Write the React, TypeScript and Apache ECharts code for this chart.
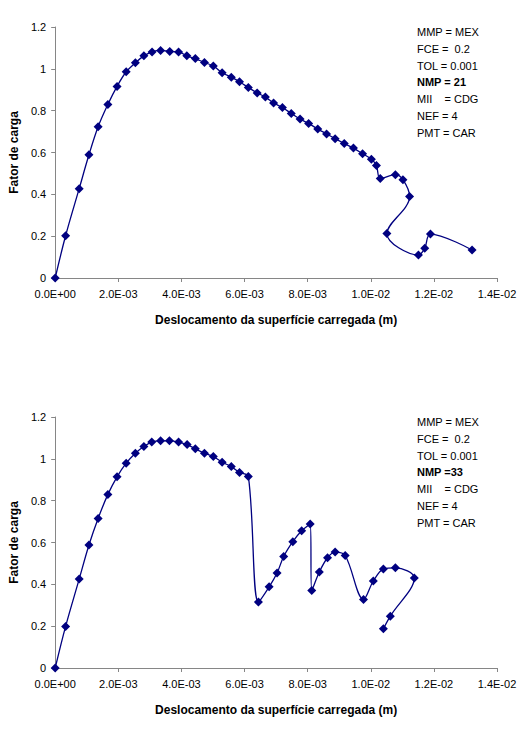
import React, { useEffect, useRef } from "react";
import * as echarts from "echarts";

// Displacement values in units of 1E-3 m
const dispTop = [
  0, 0.33, 0.76, 1.07, 1.36, 1.67, 1.96, 2.25, 2.54, 2.81, 3.07, 3.34, 3.63, 3.91,
  4.17, 4.44, 4.73, 5.01, 5.29, 5.58, 5.84, 6.12, 6.40, 6.66, 6.92, 7.2, 7.48,
  7.76, 8.03, 8.32, 8.6, 8.87, 9.16, 9.45, 9.74, 10.02, 10.18, 10.3, 10.78,
  11.02, 11.23, 10.51, 11.51, 11.71, 11.89, 13.21,
];
const loadTop = [
  0, 0.202, 0.427, 0.589, 0.723, 0.83, 0.916, 0.986, 1.029, 1.062, 1.081, 1.088,
  1.083, 1.081, 1.062, 1.049, 1.03, 1.014, 0.981, 0.96, 0.938, 0.911, 0.885,
  0.865, 0.837, 0.815, 0.787, 0.76, 0.739, 0.712, 0.689, 0.666, 0.643, 0.621,
  0.594, 0.568, 0.538, 0.476, 0.494, 0.47, 0.39, 0.213, 0.11, 0.142, 0.21, 0.134,
];

const dispBottom = [
  0, 0.33, 0.76, 1.07, 1.36, 1.67, 1.96, 2.25, 2.54, 2.81, 3.06, 3.34, 3.62,
  3.91, 4.18, 4.44, 4.73, 5.01, 5.29, 5.58, 5.84, 6.12, 6.44, 6.78, 7.03, 7.24,
  7.53, 7.81, 8.08, 8.13, 8.37, 8.63, 8.87, 9.19, 9.77, 10.08, 10.4, 10.78,
  11.38, 10.62, 10.4,
];
const loadBottom = [
  0, 0.199, 0.425, 0.588, 0.715, 0.83, 0.914, 0.979, 1.027, 1.059, 1.08, 1.086,
  1.086, 1.08, 1.068, 1.048, 1.027, 1.011, 0.984, 0.963, 0.935, 0.916, 0.315,
  0.388, 0.454, 0.533, 0.604, 0.656, 0.688, 0.371, 0.459, 0.527, 0.554, 0.538,
  0.328, 0.416, 0.473, 0.479, 0.43, 0.248, 0.188,
];

const notesTop = [
  "MMP = MEX",
  "FCE =  0.2",
  "TOL = 0.001",
  "NMP = 21",
  "MII    = CDG",
  "NEF = 4",
  "PMT = CAR",
];
const notesBottom = [
  "MMP = MEX",
  "FCE =  0.2",
  "TOL = 0.001",
  "NMP =33",
  "MII    = CDG",
  "NEF = 4",
  "PMT = CAR",
];
const boldNote = 3;

const xAxisName = "Deslocamento da superfície carregada (m)";
const yAxisName = "Fator de carga";

const FONT = "'Liberation Sans', Arial, sans-serif";
const NAVY = "#000080";
const AXIS_GRAY = "#868686";

function fmtSci(vMilli: number): string {
  const v = vMilli * 1e-3;
  if (Math.abs(v) < 1e-12) return "0.0E+00";
  const s = v.toExponential(1);
  const [m, e] = s.split("e");
  const ei = parseInt(e, 10);
  const sign = ei < 0 ? "-" : "+";
  const abs = Math.abs(ei);
  return `${m}E${sign}${abs < 10 ? "0" + abs : abs}`;
}

function yFmt(v: number): string {
  return String(Math.round(v * 10) / 10);
}

export default function App() {
  const ref = useRef<HTMLDivElement>(null);

  useEffect(() => {
    if (!ref.current) return;
    const chart = echarts.init(ref.current, undefined, { renderer: "svg" });

    const grids = [
      { left: 54, top: 27, width: 443, height: 251 },
      { left: 54, top: 417, width: 443, height: 251 },
    ];

    const xAxis = grids.map((_, i) => ({
      type: "value",
      gridIndex: i,
      min: 0,
      max: 14,
      interval: 2,
      name: xAxisName,
      nameLocation: "middle",
      nameGap: 36,
      nameTextStyle: {
        fontFamily: FONT,
        fontSize: 12,
        fontWeight: "bold",
        color: "#000",
      },
      axisLine: { show: true, lineStyle: { color: AXIS_GRAY, width: 1 } },
      axisTick: { show: true, inside: false, length: 4, lineStyle: { color: AXIS_GRAY } },
      axisLabel: {
        formatter: fmtSci,
        fontFamily: FONT,
        fontSize: 11,
        color: "#000",
        margin: 10,
      },
      splitLine: { show: false },
    }));

    const yAxis = grids.map((_, i) => ({
      type: "value",
      gridIndex: i,
      min: 0,
      max: 1.2,
      interval: 0.2,
      name: yAxisName,
      nameLocation: "middle",
      nameGap: 35,
      nameRotate: 90,
      nameTextStyle: {
        fontFamily: FONT,
        fontSize: 12,
        fontWeight: "bold",
        color: "#000",
      },
      axisLine: { show: true, lineStyle: { color: AXIS_GRAY, width: 1 } },
      axisTick: { show: true, inside: false, length: 4, lineStyle: { color: AXIS_GRAY } },
      axisLabel: {
        formatter: yFmt,
        fontFamily: FONT,
        fontSize: 11,
        color: "#000",
        margin: 9,
      },
      splitLine: { show: false },
    }));

    const mkSeries = (xs: number[], ys: number[], idx: number) => ({
      type: "line",
      xAxisIndex: idx,
      yAxisIndex: idx,
      data: xs.map((x, i) => [x, ys[i]]),
      smooth: 0.35,
      symbol: "diamond",
      symbolSize: 9,
      showAllSymbol: true,
      lineStyle: { color: NAVY, width: 1.3 },
      itemStyle: { color: NAVY },
      clip: false,
    });

    const mkNotes = (notes: string[], top: number) =>
      notes.map((t, i) => ({
        type: "text",
        left: 417,
        top: top + i * 16.7 - 6.5,
        style: {
          text: t,
          fontFamily: FONT,
          fontSize: 11,
          fontWeight: i === boldNote ? "bold" : "normal",
          fill: "#000",
        },
      }));

    chart.setOption({
      animation: false,
      backgroundColor: "#fff",
      grid: grids,
      xAxis,
      yAxis,
      series: [mkSeries(dispTop, loadTop, 0), mkSeries(dispBottom, loadBottom, 1)],
      graphic: [...mkNotes(notesTop, 33.3), ...mkNotes(notesBottom, 423.3)],
    });

    return () => chart.dispose();
  }, []);

  return (
    <div
      ref={ref}
      style={{ position: "absolute", left: 0, top: 0, width: 526, height: 740 }}
    />
  );
}
